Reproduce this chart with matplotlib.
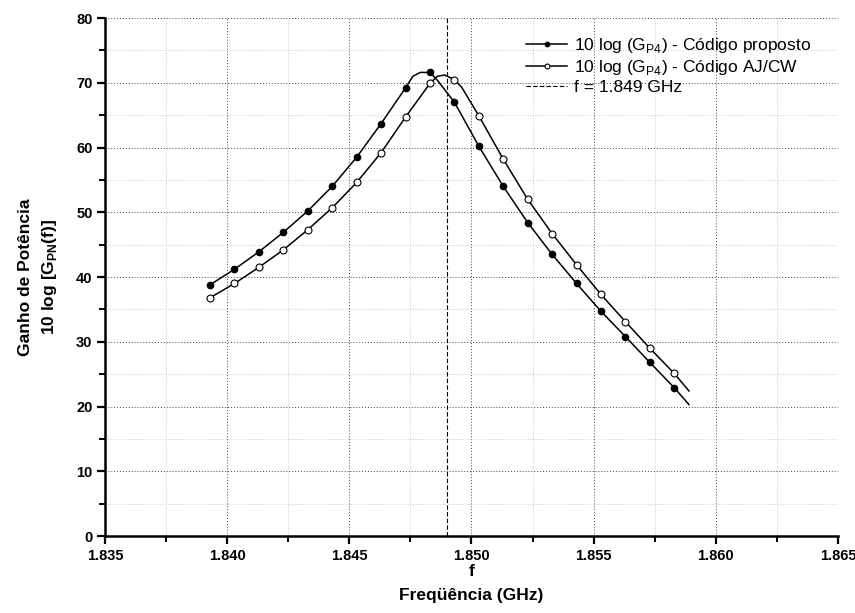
import matplotlib.pyplot as plt
import numpy as np

plt.rcParams['font.family'] = ['Liberation Sans', 'DejaVu Sans']
plt.rcParams['mathtext.fontset'] = 'custom'
plt.rcParams['mathtext.rm'] = 'Liberation Sans'

# marker positions (GHz)
freq = [1.8393, 1.8403, 1.8413, 1.8423, 1.8433, 1.8443, 1.8453, 1.8463,
        1.8473, 1.8483, 1.8493, 1.8503, 1.8513, 1.8523, 1.8533, 1.8543,
        1.8553, 1.8563, 1.8573, 1.8583]
g_proposto = [38.8, 41.2, 43.9, 46.9, 50.2, 54.0, 58.5, 63.7,
              69.2, 71.6, 67.0, 60.2, 54.0, 48.4, 43.5, 39.0,
              34.7, 30.8, 26.8, 22.9]
g_ajcw = [36.8, 39.0, 41.5, 44.2, 47.3, 50.7, 54.6, 59.2,
          64.7, 69.9, 70.5, 64.9, 58.2, 52.0, 46.7, 41.9,
          37.3, 33.1, 29.0, 25.1]

# extra points (near the peaks, end of line)
curve_proposto = [(1.8476, 71.0), (1.8479, 71.6), (1.8486, 70.4), (1.8589, 20.3)]
curve_ajcw = [(1.8486, 71.0), (1.8489, 71.2), (1.8496, 69.3), (1.8589, 22.4)]
f_marker = 1.849


def build_line(f, g, extra):
    pts = sorted(list(zip(f, g)) + extra)
    x = [p[0] for p in pts]
    y = [p[1] for p in pts]
    marks = [i for i, p in enumerate(pts) if p[0] in f]
    return x, y, marks


fig = plt.figure(figsize=(8.55, 6.13), dpi=100)
ax = fig.add_axes([0.1228, 0.1256, 0.8573, 0.845])

x1, y1, m1 = build_line(freq, g_proposto, curve_proposto)
x2, y2, m2 = build_line(freq, g_ajcw, curve_ajcw)

ax.plot(x1, y1, color='black', lw=1.1, marker='o', ms=4.5, mfc='black',
        mec='black', markevery=m1, zorder=4,
        label='10 log (G$_{\\mathregular{P4}}$) - Código proposto')
ax.plot(x2, y2, color='black', lw=1.1, marker='o', ms=5, mfc='white',
        mec='black', mew=0.8, markevery=m2, zorder=4,
        label='10 log (G$_{\\mathregular{P4}}$) - Código AJ/CW')
ax.axvline(f_marker, color='black', ls=(0, (4, 2)), lw=0.8, zorder=3,
           label='f = 1.849 GHz')

ax.set_xlim(1.835, 1.865)
ax.set_ylim(0, 80)
xt = np.arange(1.835, 1.8651, 0.005)
ax.set_xticks(xt)
ax.set_xticks(np.arange(1.8375, 1.865, 0.005), minor=True)
ax.set_yticks(np.arange(0, 81, 10))
ax.set_yticks(np.arange(5, 80, 10), minor=True)
ax.set_xticklabels(['%.3f' % v for v in xt])

ax.grid(which='major', ls=(0, (1, 2)), color='#444444', lw=0.7)
ax.grid(which='minor', ls=(0, (1, 2)), color='#bbbbbb', lw=0.6)
ax.set_axisbelow(True)

for s in ['top', 'right']:
    ax.spines[s].set_visible(False)
for s in ['left', 'bottom']:
    ax.spines[s].set_linewidth(1.8)

ax.tick_params(which='major', direction='out', length=6, width=1.6,
               labelsize=10.5, pad=3)
ax.tick_params(which='minor', direction='out', length=4, width=1.4)
for lab in ax.get_xticklabels() + ax.get_yticklabels():
    lab.set_fontweight('bold')

ax.set_xlabel('f\nFreqüência (GHz)', fontsize=12.5, fontweight='bold',
              linespacing=1.75, labelpad=1)
ax.set_ylabel('Ganho de Potência\n10 log [G$_{\\mathregular{PN}}$(f)]',
              fontsize=12.5, fontweight='bold', linespacing=1.5, labelpad=12)

leg = ax.legend(loc='upper right', bbox_to_anchor=(0.985, 0.995), frameon=False,
                fontsize=12.5, handlelength=2.4, handletextpad=0.4,
                labelspacing=0.15, markerscale=0.7)

fig.savefig('out.png', dpi=100)
